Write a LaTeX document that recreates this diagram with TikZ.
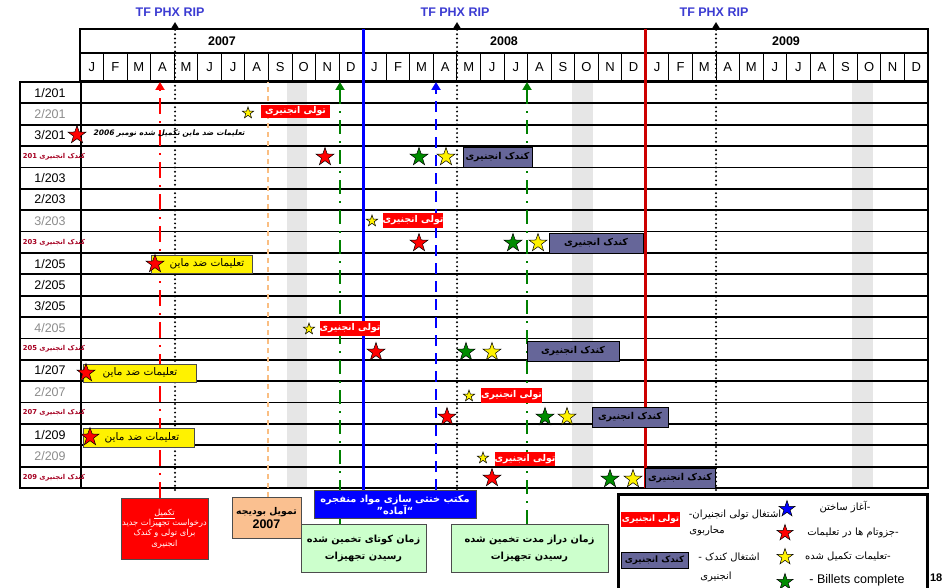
\documentclass[tikz,border=0pt]{standalone}
\usepackage{fontspec}
\setmainfont{Liberation Sans}
\newfontfamily\ar[Script=Arabic]{DejaVu Sans}
\newfontfamily\arit[Script=Arabic,FakeSlant=0.2]{DejaVu Sans}
\TeXXeTstate=1
\usetikzlibrary{shapes.geometric,arrows.meta}
\newcommand{\myR}[1]{\beginR #1\endR}
\newcommand{\myL}[1]{\beginL #1\endL{}}
\definecolor{tfblue}{RGB}{60,60,210}
\definecolor{labgray}{RGB}{140,140,140}
\definecolor{kred}{RGB}{165,0,33}
\definecolor{kpurple}{RGB}{102,102,153}
\definecolor{stgreen}{RGB}{0,140,0}
\definecolor{lgreen}{RGB}{204,255,204}
\definecolor{peach}{RGB}{250,192,144}
\definecolor{bandgray}{RGB}{230,230,230}
\definecolor{orangel}{RGB}{250,190,130}
\definecolor{ddgreen}{RGB}{0,128,0}
\definecolor{darkred}{RGB}{204,0,0}
\tikzset{
 frame/.style={line width=2.2pt, black},
 rowline/.style={line width=1.8pt, black},
 monsep/.style={line width=1pt, black},
 mon/.style={font=\fontsize{13}{15}\selectfont, inner sep=0pt},
 yr/.style={font=\bfseries\fontsize{12.5}{15}\selectfont, inner sep=0pt},
 tf/.style={font=\bfseries\fontsize{12.5}{15}\selectfont, text=tfblue, inner sep=0pt},
 rl/.style={font=\fontsize{12.5}{15}\selectfont, inner sep=0pt},
 rlg/.style={rl, text=labgray},
 rlk/.style={font=\ar\bfseries\fontsize{6.8}{8}\selectfont, text=kred, inner sep=0pt},
 st/.style={star, star points=5, star point ratio=2.55, draw=black, line width=0.5pt, inner sep=0pt, minimum size=19pt},
 sst/.style={st, minimum size=12pt, fill=yellow},
 rs/.style={st, fill=red}, gs/.style={st, fill=stgreen}, ys/.style={st, fill=yellow},
 bs/.style={st, fill=blue},
 tuli/.style={fill=red, draw=none, text=white, font=\ar\bfseries\fontsize{9.3}{11}\selectfont, inner sep=0pt},
 kondak/.style={fill=kpurple, draw=black, line width=0.8pt, font=\ar\bfseries\fontsize{9.5}{10}\selectfont, inner sep=0pt},
 tal/.style={fill=yellow, draw=black!70, line width=0.8pt, inner sep=0pt},
 taltxt/.style={font=\ar\fontsize{10.5}{12}\selectfont, inner sep=0pt},
 bx/.style={draw=black!70, line width=1pt, inner sep=0pt, align=center},
 dotl/.style={line width=2.2pt, line cap=round, dash pattern=on 0pt off 4.3pt, black},
 tipup/.style={-{Triangle[width=8pt,length=7pt]}},
 reddd/.style={line width=2.5pt, red, dash pattern=on 16pt off 7pt on 2pt off 7pt},
 greendd/.style={line width=2.2pt, ddgreen, dash pattern=on 14pt off 7pt on 2pt off 7pt},
 bluedash/.style={line width=2.5pt, blue, dash pattern=on 11pt off 7pt},
 oradash/.style={line width=1.2pt, orangel, dash pattern=on 5pt off 4pt},
 ltxt/.style={font=\ar\fontsize{10}{12}\selectfont, inner sep=0pt},
}
\begin{document}
\begin{tikzpicture}[x=1pt,y=-1pt]
\useasboundingbox (0,0) rectangle (943,588);
\clip (0,0) rectangle (943,588);
% gray bands
\fill[bandgray] (287,82) rectangle (307,488);
\fill[bandgray] (572,82) rectangle (593,488);
\fill[bandgray] (852,82) rectangle (873,488);
% row lines
\foreach \i in {0,...,19} \draw[rowline] (20,{82+21.37*\i}) -- (928,{82+21.37*\i});
\draw[frame] (20,81) -- (20,489);
\draw[frame] (81,81) -- (81,489);
\draw[frame] (928,29) -- (928,489);
% header
\draw[frame] (80,29) rectangle (928,81);
\draw[frame] (80,53) -- (928,53);
\foreach \m in {1,...,35} \draw[monsep] ({80+23.556*\m},53) -- ({80+23.556*\m},81);
\foreach \l [count=\c from 0] in {J,F,M,A,M,J,J,A,S,O,N,D,J,F,M,A,M,J,J,A,S,O,N,D,J,F,M,A,M,J,J,A,S,O,N,D}
  \node[mon] (m\c) at ({80+23.556*(\c+0.5)},67) {\l};
\node[yr] (y7) at (222,41) {2007};
\node[yr] (y8) at (504,41) {2008};
\node[yr] (y9) at (786,41) {2009};
\node[tf] (tf1) at (170,12) {TF PHX RIP};
\node[tf] (tf2) at (455,12) {TF PHX RIP};
\node[tf] (tf3) at (714,12) {TF PHX RIP};
% row labels
\node[rl] (l0) at (50,92.7) {1/201};
\node[rlg] (l1) at (50,114.1) {2/201};
\node[rl] (l2) at (50,135.4) {3/201};
\node[rlk] (l3) at (54,156.8) {\myR{کندک انجنیری \myL{201}}};
\node[rl] (l4) at (50,178.2) {1/203};
\node[rl] (l5) at (50,199.5) {2/203};
\node[rlg] (l6) at (50,220.9) {3/203};
\node[rlk] (l7) at (54,242.3) {\myR{کندک انجنیری \myL{203}}};
\node[rl] (l8) at (50,263.6) {1/205};
\node[rl] (l9) at (50,285.0) {2/205};
\node[rl] (l10) at (50,306.4) {3/205};
\node[rlg] (l11) at (50,327.8) {4/205};
\node[rlk] (l12) at (54,349.1) {\myR{کندک انجنیری \myL{205}}};
\node[rl] (l13) at (50,370.5) {1/207};
\node[rlg] (l14) at (50,391.9) {2/207};
\node[rlk] (l15) at (54,413.2) {\myR{کندک انجنیری \myL{207}}};
\node[rl] (l16) at (50,434.6) {1/209};
\node[rlg] (l17) at (50,456.0) {2/209};
\node[rlk] (l18) at (54,477.3) {\myR{کندک انجنیری \myL{209}}};
% bottom boxes under the lines
\node[bx, fill=red, text=white, font=\ar\fontsize{8.3}{10.5}\selectfont, minimum width=87pt, minimum height=61pt, anchor=north] (rbox) at (164.5,498)
  {\underline{\hbox{\myR{تکمیل}}}\\[-1pt]\myR{درخواست تجهیزات جدید}\\\myR{برای تولی و کندک}\\\myR{انجنیری}};
\node[bx, fill=peach, font=\ar\bfseries\fontsize{9.3}{14}\selectfont, minimum width=69pt, minimum height=41pt, anchor=north] (pbox) at (266.5,497)
  {\myR{تمویل بودیجه}\\{\fontspec{Liberation Sans}\bfseries\fontsize{12.5}{13}\selectfont 2007}};
% connectors (vertical lines)
\coordinate (d1t) at (175,22); \coordinate (d2t) at (457,22); \coordinate (d3t) at (716,22);
\coordinate (d1b) at (175,490); \coordinate (d2b) at (457,490); \coordinate (d3b) at (716,490);
\draw[dotl, tipup] (d1b) -- (d1t);
\draw[dotl, tipup] (d2b) -- (d2t);
\draw[dotl, tipup] (d3b) -- (d3t);
\coordinate (rt) at (160,82);
\coordinate (ot) at (268,82);
\coordinate (g1t) at (340,82);
\coordinate (bt) at (436,82);
\coordinate (g2t) at (527,82);
\coordinate (blt) at (363,29);
\coordinate (rdt) at (645,29);
\coordinate (rdb) at (645,488);
\draw[reddd, -{Triangle[width=9pt,length=8pt]}] (rt |- rbox.north) -- (rt);
\draw[oradash] (ot |- pbox.north) -- (ot);
\draw[greendd, -{Triangle[width=9pt,length=8pt]}] (g1t |- 0,524) -- (g1t);
\draw[bluedash, -{Triangle[width=9pt,length=8pt]}] (bt |- 0,490) -- (bt);
\draw[greendd, -{Triangle[width=9pt,length=8pt]}] (g2t |- 0,524) -- (g2t);
\draw[line width=3pt, blue] (blt) -- (blt |- 0,490);
\draw[line width=3pt, darkred] (rdt) -- (rdb);
% boxes on top of the lines
\node[bx, fill=blue, text=white, font=\ar\bfseries\fontsize{9.8}{12}\selectfont, minimum width=162pt, minimum height=28pt, anchor=north] (bbox) at (395,490)
  {\myR{مکتب خنثی سازی مواد منفجره}\\\myR{“آماده”}};
\node[bx, fill=lgreen, font=\ar\bfseries\fontsize{9.8}{17}\selectfont, minimum width=125pt, minimum height=48pt, anchor=north] (gbox1) at (363.5,524)
  {\myR{زمان کوتای تخمین شده}\\\myR{رسیدن تجهیزات}};
\node[bx, fill=lgreen, font=\ar\bfseries\fontsize{9.8}{17}\selectfont, minimum width=157pt, minimum height=48pt, anchor=north] (gbox2) at (529.5,524)
  {\myR{زمان دراز مدت تخمین شده}\\\myR{رسیدن تجهیزات}};
% row contents
% row 2/201
\node[sst] (a1) at (248,113) {};
\node[tuli, minimum width=69pt, minimum height=13pt] (t1) at (295.5,111.5) {\myR{تولی انجنیری}};
% row 3/201
\node[rs] (a2) at (77,135) {};
\node[font=\arit\bfseries\fontsize{7.5}{8}\selectfont, inner sep=0pt] (n2) at (169,134) {\myR{تعلیمات ضد ماین تکمیل شده نومبر \myL{2006}}};
% row 201
\node[rs] (a3r) at (325,157) {};
\node[gs] (a3g) at (419,157) {};
\node[ys] (a3y) at (446,157) {};
\node[kondak, minimum width=69pt, minimum height=20pt] (k3) at (497.5,157) {\myR{کندک انجنیری}};
% row 3/203
\node[sst] (a6) at (372,221) {};
\node[tuli, minimum width=58pt, minimum height=15pt] (t6) at (413,220.5) {\myR{تولی انجنیری}};
% row 203
\node[rs] (a7r) at (419,243) {};
\node[gs] (a7g) at (513,243) {};
\node[ys] (a7y) at (538,243) {};
\node[kondak, minimum width=94pt, minimum height=20pt] (k7) at (596,243) {\myR{کندک انجنیری}};
% row 1/205
\node[tal, minimum width=101pt, minimum height=18pt] (y8r) at (201.5,264) {};
\node[taltxt] (y8t) at (207,264) {\myR{تعلیمات ضد ماین}};
\node[rs] (a8) at (155,264) {};
% row 4/205
\node[sst] (a11) at (309,329) {};
\node[tuli, minimum width=58pt, minimum height=15pt] (t11) at (350,328.5) {\myR{تولی انجنیری}};
% row 205
\node[rs] (a12r) at (376,352) {};
\node[gs] (a12g) at (466,352) {};
\node[ys] (a12y) at (492,352) {};
\node[kondak, minimum width=92pt, minimum height=20pt] (k12) at (573,351) {\myR{کندک انجنیری}};
% row 1/207
\node[tal, minimum width=113pt, minimum height=18pt] (y13r) at (139.5,373) {};
\node[taltxt] (y13t) at (140,373) {\myR{تعلیمات ضد ماین}};
\node[rs] (a13) at (86,373) {};
% row 2/207
\node[sst] (a14) at (469,396) {};
\node[tuli, minimum width=57pt, minimum height=15pt] (t14) at (511.5,395.5) {\myR{تولی انجنیری}};
% row 207
\node[rs] (a15r) at (447,417) {};
\node[gs] (a15g) at (545,417) {};
\node[ys] (a15y) at (567,417) {};
\node[kondak, minimum width=76pt, minimum height=20pt] (k15) at (630,417) {\myR{کندک انجنیری}};
% row 1/209
\node[tal, minimum width=111pt, minimum height=19pt] (y16r) at (138.5,437.5) {};
\node[taltxt] (y16t) at (142,437.5) {\myR{تعلیمات ضد ماین}};
\node[rs] (a16) at (90,437) {};
% row 2/209
\node[sst] (a17) at (483,458) {};
\node[tuli, minimum width=56pt, minimum height=14pt] (t17) at (525,459) {\myR{تولی انجنیری}};
% row 209
\node[rs] (a18r) at (492,478) {};
\node[gs] (a18g) at (610,479) {};
\node[ys] (a18y) at (633,479) {};
\node[kondak, minimum width=70pt, minimum height=20pt] (k18) at (680,478) {\myR{کندک انجنیری}};
% legend
\draw[line width=3pt] (618,600) -- (618,494) -- (927,494) -- (927,600);
\node[tuli, font=\ar\bfseries\fontsize{8.8}{10}\selectfont, minimum width=59pt, minimum height=15pt] (lgt) at (650.5,519.5) {\myR{تولی انجنیری}};
\node[ltxt] (lg1) at (735,515) {\myR{اشتغال تولی انجنیران-}};
\node[ltxt] (lg1b) at (707,531) {\myR{محاربوی}};
\node[kondak, font=\ar\bfseries\fontsize{8.8}{10}\selectfont, minimum width=67pt, minimum height=16pt] (lgk) at (654.5,560) {\myR{کندک انجنیری}};
\node[ltxt] (lg2) at (729,557) {\myR{اشتغال کندک -}};
\node[ltxt] (lg2b) at (716,577) {\myR{انجنیری}};
\node[bs, minimum size=17pt] (lsb) at (787,509) {};
\node[ltxt] (lg3) at (845,507) {\myR{-آغاز ساختن}};
\node[rs, minimum size=17pt] (lsr) at (785,533) {};
\node[ltxt] (lg4) at (853,533) {\myR{-جزوتام ها در تعلیمات}};
\node[ys, minimum size=17pt] (lsy) at (785,557) {};
\node[ltxt] (lg5) at (848,556) {\myR{-تعلیمات تکمیل شده}};
\node[gs, minimum size=17pt] (lsg) at (785,582) {};
\node[font=\fontsize{12.5}{14}\selectfont, inner sep=0pt] (lg6) at (857,580) {- Billets complete};
\node[font=\bfseries\fontsize{11}{13}\selectfont, inner sep=0pt, anchor=east] (pg) at (942.5,578) {18};
\end{tikzpicture}
\end{document}
